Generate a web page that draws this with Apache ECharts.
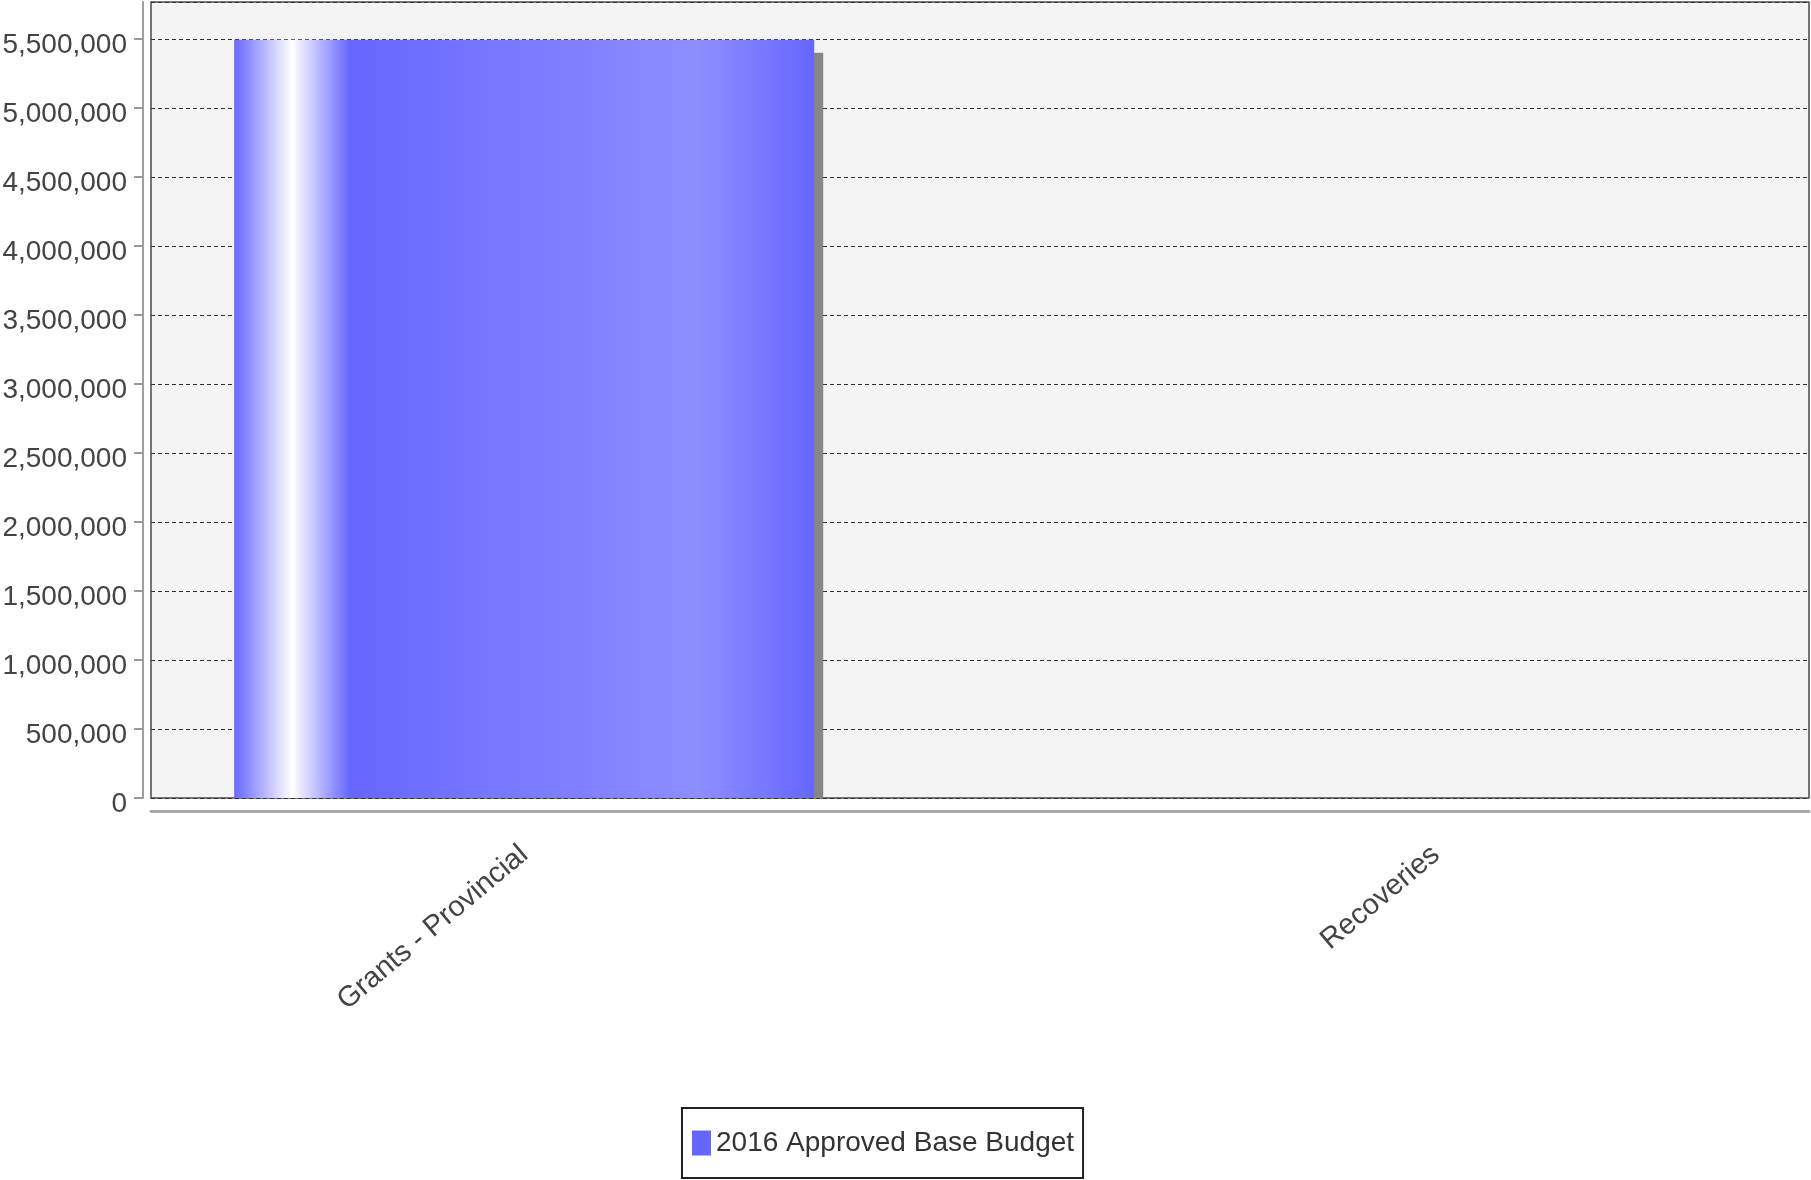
<!DOCTYPE html>
<html>
<head>
<meta charset="utf-8">
<script src="https://cdn.jsdelivr.net/npm/echarts@6/dist/echarts.min.js"></script>
<style>
  html, body { margin: 0; padding: 0; background: #fff; }
  #chart { width: 1811px; height: 1180px; }
</style>
</head>
<body>
<div id="chart"></div>
<script>
const categories = ['Grants - Provincial', 'Recoveries'];
const seriesName = '2016 Approved Base Budget';
const values = [5494000, 0];

const FONT = "'Liberation Sans', Arial, sans-serif";
const BAR_PX = 580;

const chart = echarts.init(document.getElementById('chart'), null, { renderer: 'canvas' });

// JFreeChart style gradient bar: c0 -> white -> c0 -> light -> c0
const barFill = new echarts.graphic.LinearGradient(0, 0, 1, 0, [
  { offset: 0, color: '#6868ff' },
  { offset: 0.1, color: '#ffffff' },
  { offset: 0.2, color: '#6666ff' },
  { offset: 0.8, color: '#8e8eff' },
  { offset: 1, color: '#6666ff' }
]);

function renderBar(params, api) {
  const x = api.value(0);
  const v = api.value(1);
  if (!v) return null;
  const top = api.coord([x, v]);
  const base = api.coord([x, 0]);
  const left = top[0] - BAR_PX / 2;
  const h = base[1] - top[1];
  return {
    type: 'group',
    children: [
      { // shadow, stays inside the plot
        type: 'rect',
        shape: { x: left + 9, y: top[1] + 13, width: BAR_PX, height: Math.max(0, h - 13) },
        style: { fill: '#878787' }
      },
      {
        type: 'rect',
        shape: { x: left, y: top[1], width: BAR_PX, height: h },
        style: { fill: barFill }
      }
    ]
  };
}

chart.setOption({
  animation: false,
  grid: {
    left: 151,
    right: 2,
    top: 2,
    bottom: 382,
    containLabel: false,
    outerBoundsMode: 'none',
    show: true,
    backgroundColor: '#f4f4f4',
    borderColor: '#4a4a4a',
    borderWidth: 1.5
  },
  legend: {
    left: 682,
    top: 1108,
    padding: [15, 9, 15, 10],
    itemWidth: 19,
    itemHeight: 25,
    itemGap: 10,
    borderColor: '#222',
    borderWidth: 2,
    backgroundColor: '#fff',
    textStyle: { fontFamily: FONT, fontSize: 28, color: '#333', lineHeight: 40 },
    data: [{ name: seriesName, icon: 'rect', itemStyle: { color: '#6666ff' } }]
  },
  xAxis: {
    type: 'value',
    min: -0.4093,
    max: 1.409,
    offset: 13,
    axisLine: { show: true, onZero: false, lineStyle: { color: '#a8a8a8', width: 3 } },
    axisTick: { show: false },
    splitLine: { show: false },
    axisLabel: {
      customValues: categories.map((c, i) => i),
      formatter: (v) => categories[Math.round(v)] || '',
      rotate: 40,
      margin: 40,
      color: '#444',
      fontFamily: FONT,
      fontSize: 29
    }
  },
  yAxis: {
    type: 'value',
    min: 0,
    max: 5768000,
    interval: 500000,
    offset: 8,
    axisLine: { show: true, onZero: false, lineStyle: { color: '#a0a0a0', width: 2 } },
    axisTick: { show: true, length: 9, lineStyle: { color: '#999', width: 2 } },
    splitLine: { show: true, lineStyle: { color: '#333', width: 1, type: [4, 3] } },
    axisLabel: {
      showMaxLabel: false,
      margin: 16,
      verticalAlign: 'top',
      lineHeight: 12,
      color: '#444',
      fontFamily: FONT,
      fontSize: 28,
      formatter: (v) => v.toLocaleString('en-US')
    }
  },
  series: [{
    name: seriesName,
    type: 'custom',
    renderItem: renderBar,
    clip: true,
    itemStyle: { color: '#6666ff' },
    encode: { x: 0, y: 1 },
    data: values.map((v, i) => [i, v])
  }]
});
</script>
</body>
</html>
